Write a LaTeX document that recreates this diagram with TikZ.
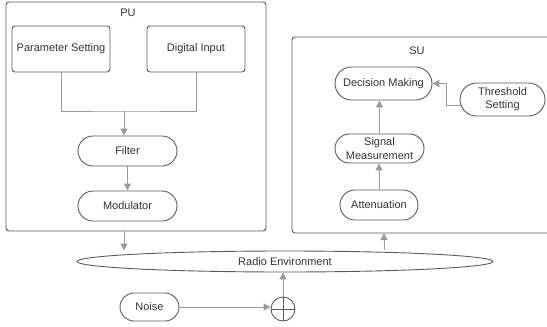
\documentclass[tikz,border=0pt]{standalone}
\usepackage{fontspec}
\setmainfont{Liberation Sans}
\usetikzlibrary{arrows.meta,shapes.geometric,shapes.misc}
\definecolor{boxc}{HTML}{5A5A5A}
\definecolor{arrc}{HTML}{9A9A9A}
\definecolor{txtc}{HTML}{333333}
\begin{document}
\begin{tikzpicture}[x=1pt,y=-1pt,
  lbl/.style={font=\fontsize{11}{13.3}\selectfont, text=txtc, align=center},
  container/.style={draw=boxc, line width=0.9pt, rounded corners=3pt, inner sep=0pt},
  rbox/.style={lbl, draw=boxc, line width=0.9pt, rounded corners=3pt, inner sep=0pt},
  pill/.style={lbl, draw=boxc, line width=0.9pt, rounded rectangle, inner sep=0pt},
  conn/.style={draw=arrc, line width=1pt},
  arr/.style={conn, -{Triangle[length=7pt,width=7pt]}}
]
\useasboundingbox (0,0) rectangle (547,327);
% containers
\node[container, minimum width=260, minimum height=229] (pu) at (136,116.5) {};
\node[lbl] (pulbl) at (128,13) {PU};
\begin{scope}
  \clip (0,0) rectangle (547,327);
  \node[container, minimum width=268, minimum height=196] (su) at (426,135) {};
\end{scope}
\node[lbl] (sulbl) at (417,51) {SU};
% PU nodes
\node[rbox, minimum width=98, minimum height=46] (ps) at (61,49) {Parameter Setting};
\node[rbox, minimum width=98, minimum height=46] (di) at (196,49) {Digital Input};
\node[pill, minimum width=99, minimum height=30] (filt) at (127.5,151) {Filter};
\node[pill, minimum width=99, minimum height=30] (mod) at (127.5,206) {Modulator};
% SU nodes
\node[pill, minimum width=97, minimum height=33] (dm) at (383.5,83.5) {Decision Making};
\node[pill, minimum width=85, minimum height=33] (ts) at (502.5,99.5) {Threshold\\Setting};
\node[pill, minimum width=89, minimum height=29] (sm) at (379.5,148.5) {Signal\\Measurement};
\node[pill, minimum width=78, minimum height=30] (att) at (379,205) {Attenuation};
% environment
\node[lbl, draw=boxc, line width=0.9pt, ellipse, inner sep=0pt, minimum width=416, minimum height=21] (env) at (285,261.5) {Radio Environment};
\node[pill, minimum width=59, minimum height=28] (noise) at (149.5,307) {Noise};
\node[draw=boxc, line width=0.9pt, circle, inner sep=0pt, minimum size=24,
  path picture={\draw[boxc, line width=0.9pt] (path picture bounding box.north) -- (path picture bounding box.south)
    (path picture bounding box.west) -- (path picture bounding box.east);}] (sum) at (283,309) {};
% connectors PU
\coordinate (mj) at (124,111);
\draw[conn] (ps.south) |- (mj) -| (di.south);
\draw[arr] (mj) -- (mj |- filt.north);
\draw[arr] (filt.south) -- (mod.north);
\coordinate (puout) at (124,231);
\draw[arr] (puout) -- (puout |- env.north);
% connectors SU
\coordinate (suin) at (384,233);
\draw[arr] ([yshift=1pt]env.north -| suin) -- (suin);
\draw[arr] (att.north) -- (att.north |- sm.south);
\draw[arr] (sm.north) -- (sm.north |- dm.south);
\coordinate (tj) at (446,105);
\draw[arr] ([xshift=1pt]ts.west |- tj) -- (tj) |- (dm.east);
% noise
\draw[arr] (noise.east) -- (noise.east -| sum.west);
\draw[arr] (sum.north) -- (sum.north |- env.south);
\end{tikzpicture}
\end{document}
